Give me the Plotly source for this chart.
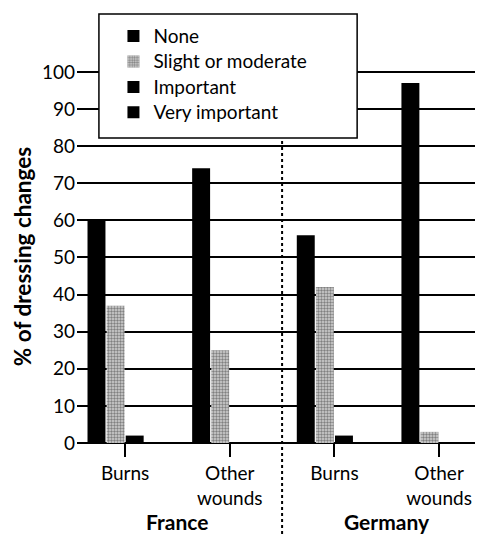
import plotly.graph_objects as go

groups = ["Burns", "Other<br>wounds", "Burns", "Other<br>wounds"]
countries = ["France", "Germany"]
series_names = ["None", "Slight or moderate", "Important", "Very important"]
none_vals = [60, 74, 56, 97]
slight_vals = [37, 25, 42, 3]
important_vals = [2, 0, 2, 0]
very_vals = [0, 0, 0, 0]
y_ticks = [0, 10, 20, 30, 40, 50, 60, 70, 80, 90, 100]

xpos = list(range(len(groups)))
FONT = "Lato"

fig = go.Figure()
series = [none_vals, slight_vals, important_vals, very_vals]
for name, vals in zip(series_names, series):
    if name == "Slight or moderate":
        marker = dict(color="#909090", line=dict(width=0),
                      pattern=dict(shape=".", fgcolor="#2e2e2e", bgcolor="#d2d2d2",
                                   size=3, solidity=0.5))
    else:
        marker = dict(color="black", line=dict(width=0))
    fig.add_trace(go.Bar(x=xpos, y=vals, marker=marker,
                         name='<span style="font-size:19px">%s</span>' % name))

# page body has an 8px margin, so the figure is 8px smaller than the window
fig.update_layout(
    width=475, height=527,
    margin=dict(l=69, r=0, t=62, b=92),
    paper_bgcolor="white", plot_bgcolor="white",
    barmode="group", bargap=0.27, bargroupgap=0.06,
    font=dict(family=FONT, size=18, color="black"),
    showlegend=True,
    legend=dict(x=0.075, y=1.139, xanchor="left", yanchor="top",
                bgcolor="rgba(0,0,0,0)", borderwidth=0,
                font=dict(family=FONT, size=17.3), indentation=6,
                traceorder="normal"),
)
fig.update_xaxes(
    range=[-0.46, 3.42], tickmode="array", tickvals=xpos, ticktext=groups,
    ticks="outside", ticklen=13, tickwidth=1.5, tickcolor="black",
    showgrid=False, zeroline=False, showline=False,
    tickfont=dict(family=FONT, size=19),
)
fig.update_yaxes(
    range=[0, 100.5], tickmode="array", tickvals=y_ticks,
    showgrid=True, gridcolor="black", gridwidth=1.5,
    zeroline=True, zerolinecolor="black", zerolinewidth=1.5,
    ticks="", ticklabelstandoff=1,
    tickfont=dict(family=FONT, size=19),
    title=dict(text="<b>% of dressing changes</b>", font=dict(family=FONT, size=22.5), standoff=4),
)

# dotted separator between countries
fig.add_shape(type="line", xref="x", yref="paper", x0=1.5, x1=1.5, y0=-0.26, y1=1.0,
              line=dict(color="black", width=2, dash="dot"))
# legend box
fig.add_shape(type="rect", xref="paper", yref="paper", x0=0.054, x1=0.690, y0=0.818, y1=1.150,
              fillcolor="white", line=dict(color="black", width=1.5), layer="above")

for i, c in enumerate(countries):
    fig.add_annotation(x=2 * i + 0.5, y=-0.211, xref="x", yref="paper",
                       text="<b>%s</b>" % c, showarrow=False, yanchor="middle",
                       font=dict(family=FONT, size=21))

fig.write_html("out.html")
